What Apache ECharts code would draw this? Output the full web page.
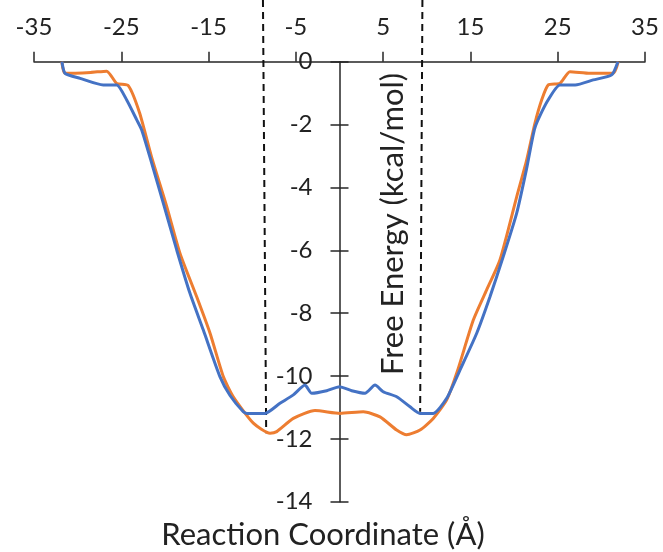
<!DOCTYPE html>
<html>
<head>
<meta charset="utf-8">
<script src="https://cdn.jsdelivr.net/npm/echarts@6/dist/echarts.min.js"></script>
<style>
  html, body { margin: 0; padding: 0; background: #fff; }
  #chart { width: 663px; height: 552px; }
</style>
</head>
<body>
<div id="chart"></div>
<script>
// tick labels
var xTicks = [-35, -25, -15, -5, 5, 15, 25, 35];
var yTicks = [-14, -12, -10, -8, -6, -4, -2, 0];

// free energy profiles, [reaction coordinate, kcal/mol]
var blueCurve = [
  [-31.8, 0], [-31.44, -0.37], [-29.72, -0.53], [-27.06, -0.74], [-25.52, -0.74],
  [-24.38, -1.22], [-23.23, -1.85], [-22.66, -2.17], [-21.51, -3.23], [-20.18, -4.51],
  [-18.65, -5.99], [-17.13, -7.37], [-15.6, -8.54], [-13.7, -10.02], [-12.54, -10.62],
  [-11.02, -11.14], [-10.6, -11.19], [-8.53, -11.19], [-6.82, -10.87], [-5.29, -10.6],
  [-3.95, -10.29], [-3.18, -10.55], [-1.47, -10.47], [0, -10.34], [1.4, -10.47],
  [2.92, -10.55], [4.07, -10.29], [5.0, -10.5], [6.55, -10.66], [8.08, -10.98],
  [9.22, -11.19], [10.74, -11.19], [12.28, -10.71], [13.8, -9.81], [15.72, -8.64],
  [17.24, -7.48], [18.76, -6.2], [20.3, -4.82], [21.44, -3.4], [22.39, -2.1],
  [23.73, -1.3], [25.26, -0.74], [27.0, -0.74], [29.07, -0.58], [31.18, -0.42], [31.9, 0]
];
var orangeCurve = [
  [-31.82, 0], [-31.44, -0.37], [-28.5, -0.34], [-26.67, -0.3], [-25.52, -0.69],
  [-24.2, -0.76], [-22.9, -1.63], [-21.5, -3.06], [-19.79, -4.61], [-18.27, -6.1],
  [-16.36, -7.48], [-14.83, -8.64], [-13.31, -10.02], [-12.17, -10.66], [-9.87, -11.5],
  [-7.96, -11.82], [-7.19, -11.77], [-5.29, -11.35], [-2.81, -11.1], [0.06, -11.19],
  [2.73, -11.14], [4.64, -11.3], [6.55, -11.72], [7.7, -11.87], [9.22, -11.72],
  [10.74, -11.35], [12.28, -10.76], [13.5, -9.85], [15.33, -8.22], [16.86, -7.26],
  [18.38, -6.31], [20.3, -4.3], [21.44, -3.13], [22.39, -1.96], [23.16, -1.22],
  [23.92, -0.74], [25.26, -0.69], [26.4, -0.32], [28.7, -0.37], [31.36, -0.37], [31.94, 0]
];

// dashed boundary lines
var dividerLeft = [[-8.77, 1.96], [-8.4, -11.82]];
var dividerRight = [[9.5, 1.96], [9.24, -11.14]];

var font = 'Lato, "Open Sans", sans-serif';
var ink = '#262626';

// grid spans x = 34..645, so x = 0 sits 305.5px in from either edge
var gridLeft = 34, gridRight = 18;
var zeroOffset = -(663 - gridLeft - gridRight) / 2;

var chart = echarts.init(document.getElementById('chart'));
var option = {
  animation: false,
  backgroundColor: '#fff',
  grid: {
    left: gridLeft, right: gridRight, top: 61.7, bottom: 50.3,
    containLabel: false, outerBoundsMode: 'none'
  },
  xAxis: {
    type: 'value',
    position: 'top',
    min: -35, max: 35,
    splitLine: { show: false },
    axisLine: { onZero: false, lineStyle: { color: ink, width: 1.5 } },
    axisTick: { customValues: xTicks, length: 10, lineStyle: { color: ink, width: 1.5 } },
    axisLabel: { customValues: xTicks, margin: 22, color: '#222', fontSize: 24, fontFamily: font }
  },
  yAxis: [{
    type: 'value',
    position: 'left',
    offset: zeroOffset,
    min: -14, max: 0,
    splitLine: { show: false },
    axisLine: { onZero: false, lineStyle: { color: ink, width: 1.5 } },
    axisTick: { customValues: yTicks, length: 9, lineStyle: { color: ink, width: 1.5 } },
    axisLabel: { customValues: yTicks, margin: 27, color: '#222', fontSize: 24, fontFamily: font }
  }, {
    type: 'value',
    position: 'right',
    offset: zeroOffset,
    min: -14, max: 0,
    splitLine: { show: false },
    axisLine: { show: false, onZero: false },
    axisTick: { customValues: yTicks, length: 9, lineStyle: { color: ink, width: 1.5 } },
    axisLabel: { show: false }
  }],
  graphic: [{
    type: 'text',
    x: 323, y: 535,
    style: {
      text: 'Reaction Coordinate (Å)', fill: '#222', font: '31px ' + font,
      align: 'center', verticalAlign: 'middle'
    }
  }, {
    type: 'text',
    x: 393, y: 224,
    rotation: Math.PI / 2,
    style: {
      text: 'Free Energy (kcal/mol)', fill: '#222', font: '31px ' + font,
      align: 'center', verticalAlign: 'middle'
    }
  }],
  series: [{
    name: 'blue', type: 'line', data: blueCurve, showSymbol: false, smooth: 0.2,
    lineStyle: { color: '#4472C4', width: 3 }, z: 3
  }, {
    name: 'orange', type: 'line', data: orangeCurve, showSymbol: false, smooth: 0.2,
    lineStyle: { color: '#ED7D31', width: 3 }, z: 2
  }, {
    name: 'left boundary', type: 'line', data: dividerLeft, showSymbol: false, clip: false,
    lineStyle: { color: '#111', width: 2, type: [7, 5] }, z: 1
  }, {
    name: 'right boundary', type: 'line', data: dividerRight, showSymbol: false, clip: false,
    lineStyle: { color: '#111', width: 2, type: [7, 5] }, z: 1
  }]
};
chart.setOption(option);
</script>
</body>
</html>
